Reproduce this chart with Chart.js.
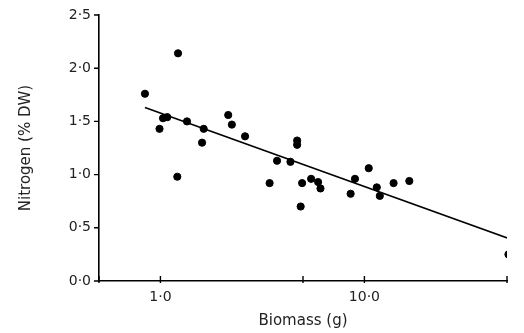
<!DOCTYPE html>
<html>
<head>
<meta charset="utf-8">
<script src="https://cdn.jsdelivr.net/npm/chart.js@4"></script>
<style>
  html, body { margin: 0; padding: 0; background: #fff; }
  canvas { display: block; }
</style>
</head>
<body>
<canvas id="myChart" width="524" height="333"></canvas>
<script>
// Scatter points: biomass (g) and nitrogen (% DW)
const biomass  = [0.84, 1.22, 0.99, 1.03, 1.08, 1.35, 1.21, 1.63, 1.60, 2.15, 2.24, 2.60,
                  3.43, 3.73, 4.34, 4.68, 4.68, 4.95, 4.87, 5.48, 5.93, 6.09, 8.56, 8.99,
                  10.5, 11.5, 11.9, 13.9, 16.6, 50.8];
const nitrogen = [1.76, 2.14, 1.43, 1.53, 1.54, 1.50, 0.98, 1.43, 1.30, 1.56, 1.47, 1.36,
                  0.92, 1.13, 1.12, 1.32, 1.28, 0.92, 0.70, 0.96, 0.93, 0.87, 0.82, 0.96,
                  1.06, 0.88, 0.80, 0.92, 0.94, 0.25];

// Fitted regression line, end points
const fitX = [0.84, 50.9];
const fitY = [1.63, 0.40];

// Axis ticks
const xTickValues = [0.5, 1, 5, 10, 50];
const xTickLabels = ['', '1·0', '', '10·0', ''];
const yTickLabels = ['0·0', '0·5', '1·0', '1·5', '2·0', '2·5'];

const tickFont = { family: 'DejaVu Sans', size: 14 };
const titleFont = { family: 'DejaVu Sans', size: 15 };

function zeroPad(scale) {
    scale.paddingLeft = 0;
    scale.paddingRight = 0;
    scale.paddingTop = 0;
    scale.paddingBottom = 0;
}

// small tick marks: y ticks point left, x ticks mostly sit above the axis
const tickMarks = {
    id: 'tickMarks',
    afterDraw(chart) {
        const c = chart.ctx;
        const xs = chart.scales.x, ys = chart.scales.y;
        const area = chart.chartArea;
        c.save();
        c.strokeStyle = '#000';
        c.lineWidth = 1.4;
        c.beginPath();
        ys.ticks.forEach(t => {
            const py = ys.getPixelForValue(t.value);
            c.moveTo(area.left - 5, py);
            c.lineTo(area.left, py);
        });
        xs.ticks.forEach(t => {
            const px = xs.getPixelForValue(t.value);
            c.moveTo(px, area.bottom - 5);
            c.lineTo(px, area.bottom + 2);
        });
        c.stroke();
        c.restore();
    }
};

const ctx = document.getElementById('myChart').getContext('2d');

const myChart = new Chart(ctx, {
    type: 'scatter',
    data: {
        datasets: [
            {
                data: biomass.map((x, i) => ({ x: x, y: nitrogen[i] })),
                backgroundColor: '#000',
                borderColor: '#000',
                pointRadius: 3.6,
                pointHoverRadius: 3.6
            },
            {
                type: 'line',
                data: fitX.map((x, i) => ({ x: x, y: fitY[i] })),
                borderColor: '#000',
                borderWidth: 1.6,
                pointRadius: 0,
                fill: false
            }
        ]
    },
    options: {
        responsive: false,
        animation: false,
        devicePixelRatio: 1,
        layout: { padding: { left: 0, right: 17, top: 15, bottom: 0 } },
        plugins: {
            legend: { display: false },
            tooltip: { enabled: false }
        },
        scales: {
            x: {
                type: 'logarithmic',
                min: 0.5,
                max: 50,
                afterBuildTicks: s => { s.ticks = xTickValues.map(v => ({ value: v })); },
                afterFit: s => { s.height = 52; zeroPad(s); },
                border: { display: true, color: '#000', width: 1.6 },
                grid: { display: false, drawOnChartArea: false, drawTicks: false },
                ticks: {
                    color: '#222',
                    font: tickFont,
                    padding: 8,
                    maxRotation: 0,
                    autoSkip: false,
                    callback: (v, i) => xTickLabels[i]
                },
                title: {
                    display: true,
                    text: 'Biomass (g)',
                    color: '#222',
                    font: titleFont,
                    padding: { top: 0, bottom: 3 }
                }
            },
            y: {
                min: 0,
                max: 2.5,
                afterBuildTicks: s => { s.ticks = yTickLabels.map((t, i) => ({ value: i * 0.5 })); },
                afterFit: s => { s.width = 99; zeroPad(s); },
                border: { display: true, color: '#000', width: 1.6 },
                grid: { display: false, drawOnChartArea: false, drawTicks: false },
                ticks: {
                    color: '#222',
                    font: tickFont,
                    padding: 8,
                    callback: (v, i) => yTickLabels[i]
                },
                title: {
                    display: true,
                    text: 'Nitrogen (% DW)',
                    color: '#222',
                    font: titleFont,
                    padding: { top: 17, bottom: 0 }
                }
            }
        }
    },
    plugins: [tickMarks]
});
</script>
</body>
</html>
